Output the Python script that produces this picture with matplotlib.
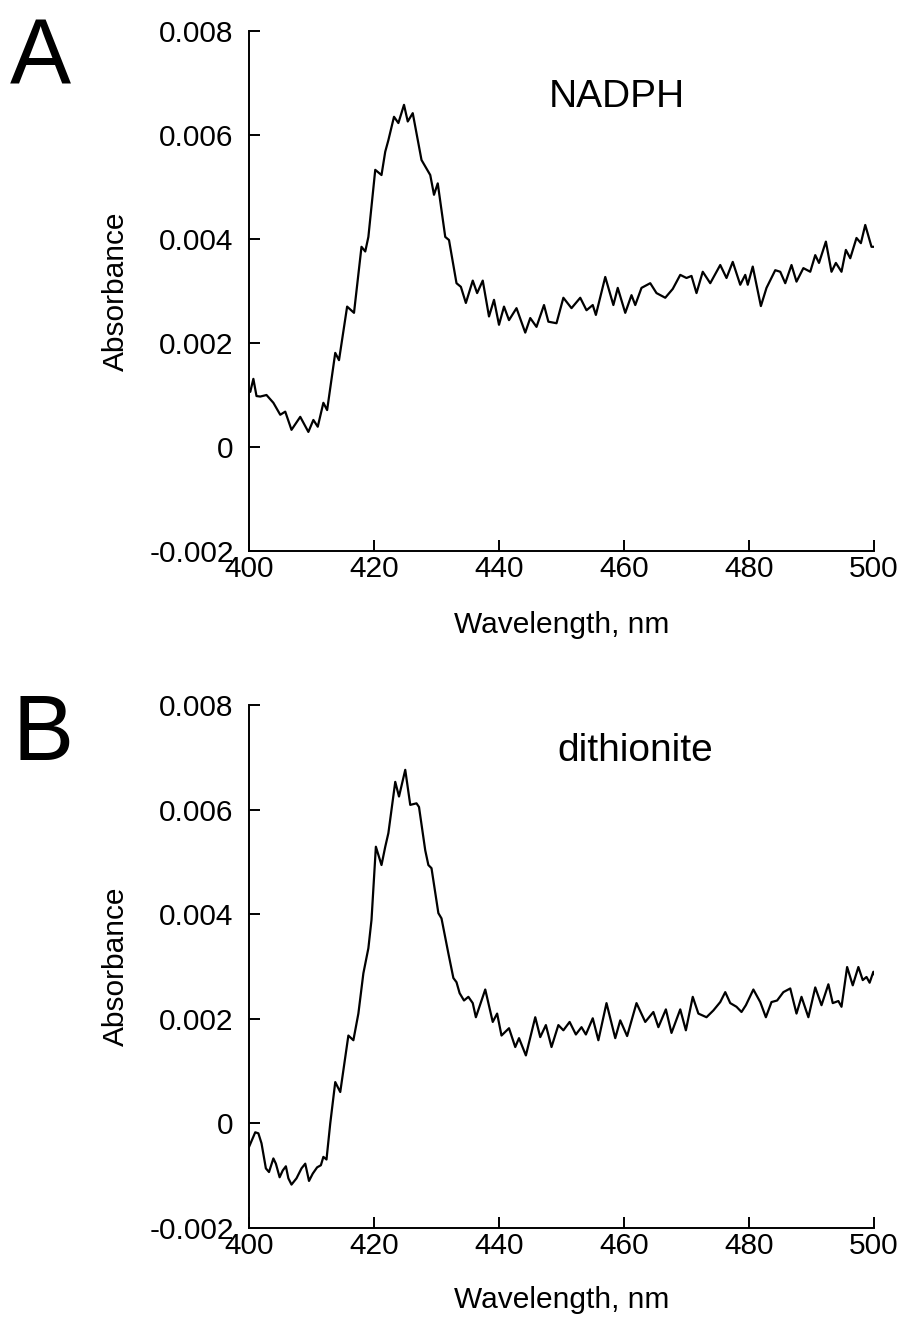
import matplotlib
matplotlib.use("Agg")
import matplotlib.pyplot as plt

plt.rcParams['font.family'] = ['Liberation Sans', 'DejaVu Sans']

# panel A : NADPH reduced spectrum (absorbance x 1e-3)
wl_a = [400.0, 400.2, 400.7, 401.2, 401.8, 402.8, 403.9, 405.0, 405.8, 406.8,
        408.2, 409.5, 410.3, 411.0, 411.9, 412.5, 413.8, 414.4, 415.7, 416.8,
        418.0, 418.6, 419.1, 420.2, 421.2, 421.8, 422.3, 423.2, 423.9, 424.8,
        425.4, 426.2, 427.6, 429.0, 429.6, 430.2, 431.4, 432.0, 433.2, 433.9,
        434.7, 435.8, 436.5, 437.4, 438.4, 439.2, 440.0, 440.8, 441.6, 442.8,
        444.2, 445.0, 446.0, 447.2, 447.9, 449.2, 450.3, 451.6, 453.0, 454.0,
        455.0, 455.5, 457.0, 458.3, 459.0, 460.2, 461.2, 461.8, 462.8, 464.2,
        465.2, 466.6, 467.8, 469.0, 470.0, 470.8, 471.6, 472.6, 473.8, 475.4,
        476.4, 477.4, 478.6, 479.4, 479.8, 480.6, 481.9, 482.8, 484.2, 485.0,
        485.8, 486.8, 487.6, 488.7, 489.8, 490.6, 491.2, 492.3, 493.2, 493.9,
        494.8, 495.5, 496.2, 497.2, 497.9, 498.6, 499.6, 500.0]
abs_a = [1.10, 1.06, 1.31, 0.98, 0.97, 1.00, 0.85, 0.62, 0.68, 0.33,
         0.58, 0.29, 0.52, 0.39, 0.85, 0.71, 1.81, 1.67, 2.70, 2.58,
         3.85, 3.76, 4.04, 5.33, 5.23, 5.68, 5.90, 6.35, 6.23, 6.58,
         6.26, 6.42, 5.52, 5.23, 4.85, 5.07, 4.04, 3.98, 3.15, 3.08,
         2.77, 3.20, 2.96, 3.20, 2.51, 2.83, 2.35, 2.70, 2.44, 2.67,
         2.20, 2.48, 2.31, 2.73, 2.41, 2.38, 2.87, 2.67, 2.87, 2.63,
         2.73, 2.54, 3.27, 2.73, 3.06, 2.58, 2.92, 2.73, 3.06, 3.15,
         2.96, 2.87, 3.04, 3.31, 3.25, 3.29, 2.96, 3.37, 3.15, 3.50,
         3.25, 3.56, 3.12, 3.31, 3.12, 3.47, 2.71, 3.06, 3.40, 3.37,
         3.15, 3.50, 3.18, 3.44, 3.37, 3.69, 3.54, 3.95, 3.37, 3.54,
         3.37, 3.79, 3.63, 4.02, 3.92, 4.27, 3.85, 3.85]

# panel B : dithionite reduced spectrum (absorbance x 1e-3)
wl_b = [400.0, 401.0, 401.5, 402.0, 402.7, 403.2, 403.9, 404.3, 404.9, 405.4,
        405.9, 406.3, 406.8, 407.6, 408.4, 409.0, 409.6, 410.2, 410.9, 411.5,
        411.9, 412.4, 413.0, 413.8, 414.6, 415.9, 416.7, 417.5, 418.3, 419.1,
        419.6, 420.3, 421.2, 421.8, 422.3, 423.4, 424.0, 425.0, 425.8, 426.8,
        427.2, 428.2, 428.7, 429.2, 430.3, 430.8, 431.9, 432.7, 433.2, 433.7,
        434.4, 435.1, 435.8, 436.3, 437.8, 439.0, 439.7, 440.4, 441.6, 442.6,
        443.2, 444.3, 445.8, 446.6, 447.5, 448.4, 449.5, 450.3, 451.3, 452.3,
        453.2, 453.9, 455.0, 455.9, 457.2, 458.6, 459.4, 460.5, 462.0, 463.4,
        464.7, 465.5, 466.7, 467.6, 469.0, 469.9, 471.0, 471.9, 473.2, 474.3,
        475.4, 476.2, 477.0, 478.0, 478.8, 479.5, 480.7, 481.8, 482.7, 483.6,
        484.5, 485.5, 486.6, 487.6, 488.4, 489.5, 490.6, 491.6, 492.7, 493.4,
        494.3, 494.8, 495.7, 496.6, 497.5, 498.2, 498.8, 499.3, 499.9, 500.0]
abs_b = [-0.45, -0.17, -0.19, -0.38, -0.86, -0.93, -0.67, -0.77, -1.03, -0.90,
         -0.82, -1.05, -1.17, -1.05, -0.86, -0.77, -1.10, -0.96, -0.84, -0.80,
         -0.64, -0.69, 0.00, 0.79, 0.60, 1.68, 1.59, 2.10, 2.87, 3.35,
         3.89, 5.29, 4.94, 5.29, 5.55, 6.53, 6.25, 6.76, 6.09, 6.12,
         6.05, 5.22, 4.94, 4.88, 4.02, 3.92, 3.25, 2.78, 2.70, 2.49,
         2.35, 2.42, 2.30, 2.03, 2.56, 1.94, 2.10, 1.68, 1.82, 1.46,
         1.63, 1.30, 2.03, 1.65, 1.88, 1.46, 1.88, 1.78, 1.94, 1.70,
         1.84, 1.70, 2.01, 1.59, 2.30, 1.63, 1.97, 1.67, 2.30, 1.94,
         2.13, 1.84, 2.18, 1.73, 2.18, 1.78, 2.42, 2.10, 2.03, 2.16,
         2.32, 2.51, 2.30, 2.23, 2.13, 2.26, 2.56, 2.32, 2.03, 2.32,
         2.35, 2.51, 2.58, 2.10, 2.42, 2.03, 2.60, 2.26, 2.66, 2.30,
         2.34, 2.23, 2.99, 2.64, 2.99, 2.74, 2.80, 2.69, 2.90, 2.85]

yticks = [-0.002, 0, 0.002, 0.004, 0.006, 0.008]
ytick_labels = ['-0.002', '0', '0.002', '0.004', '0.006', '0.008']
xticks = [400, 420, 440, 460, 480, 500]

W, H = 901, 1318
fig = plt.figure(figsize=(W / 100, H / 100), dpi=100)


def make_panel(rect, wl, ab, letter, letter_pos, name, name_pos, xlab_y):
    ax = fig.add_axes(rect)
    ax.plot(wl, [v * 1e-3 for v in ab], color='black', lw=1.6,
            solid_joinstyle='round', solid_capstyle='round')
    ax.set_xlim(400, 500)
    ax.set_ylim(-0.002, 0.008)
    ax.set_xticks(xticks)
    ax.set_yticks(yticks)
    ax.set_yticklabels(ytick_labels)
    for s in ['top', 'right']:
        ax.spines[s].set_visible(False)
    for s in ['left', 'bottom']:
        ax.spines[s].set_linewidth(1.4)
    ax.tick_params(direction='in', length=8, width=1.4, labelsize=21.5)
    ax.tick_params(axis='y', pad=11)
    ax.tick_params(axis='x', pad=3)
    ax.set_ylabel('Absorbance', fontsize=21.5, va='center')
    ax.yaxis.set_label_coords(-0.213, 0.5)
    ax.set_xlabel('Wavelength, nm', fontsize=21.5, va='center')
    ax.xaxis.set_label_coords(0.5, xlab_y)
    ax.text(name_pos[0], name_pos[1], name, transform=ax.transAxes,
            fontsize=28, ha='center', va='center')
    fig.text(letter_pos[0] / W, 1 - letter_pos[1] / H, letter,
             fontsize=66, ha='left', va='baseline')
    return ax


def rect_px(l, t, r, b):
    return [l / W, 1 - b / H, (r - l) / W, (b - t) / H]


make_panel(rect_px(249, 31, 874, 551), wl_a, abs_a, 'A', (10, 85),
           'NADPH', (0.589, 0.873), -0.142)
make_panel(rect_px(249, 705, 874, 1228), wl_b, abs_b, 'B', (12, 760),
           'dithionite', (0.618, 0.912), -0.138)

fig.savefig('out.png', dpi=100)
